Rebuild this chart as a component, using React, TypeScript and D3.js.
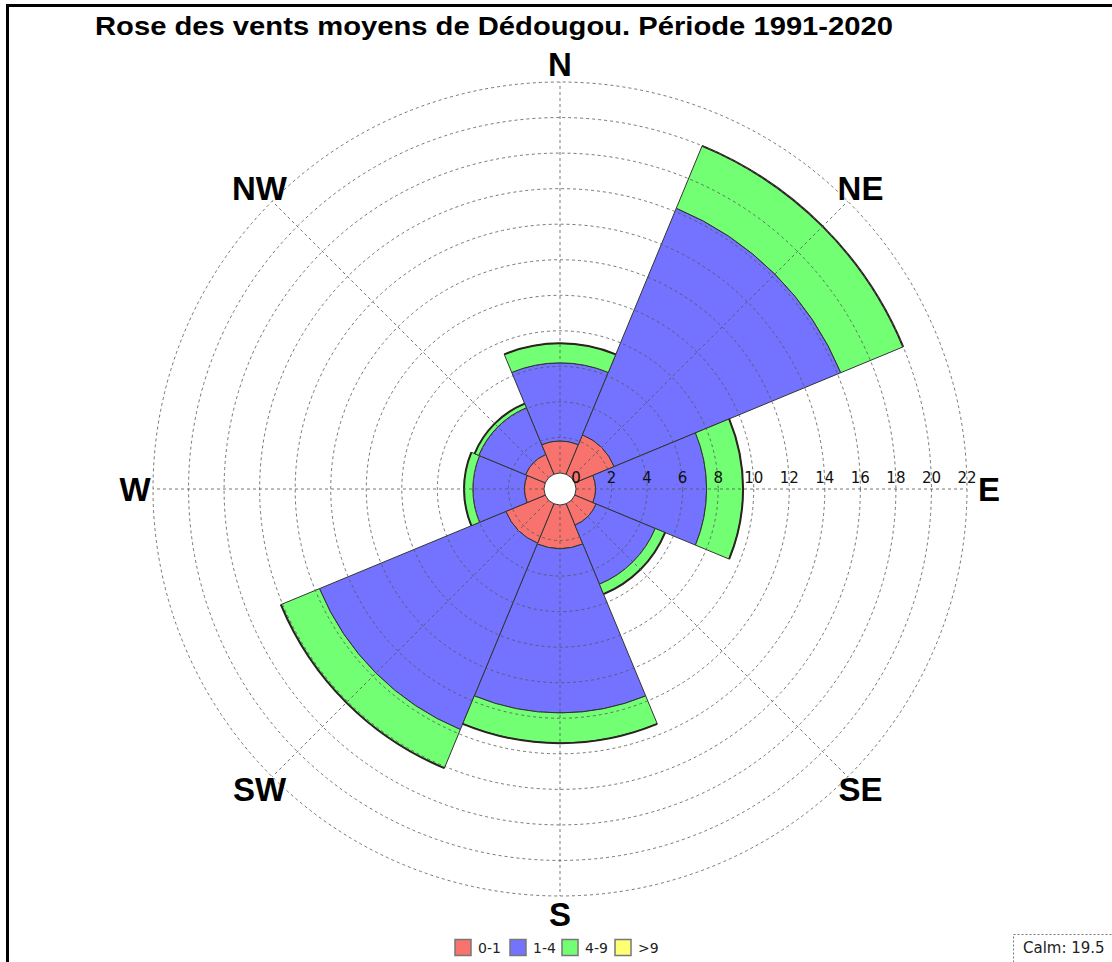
import React, { useEffect, useRef } from "react";
import * as d3 from "d3";

const directions = ["N", "NE", "E", "SE", "S", "SW", "W", "NW"];
const speedBins = ["0-1", "1-4", "4-9", ">9"];
const speed0to1 = [1.8, 2.4, 1.1, 1.3, 2.45, 2.4, 1.1, 1.2];
const speed1to4 = [4.4, 13.8, 6.25, 3.6, 9.25, 11.35, 2.9, 2.85];
const speed4to9 = [1.1, 3.8, 2.05, 0.6, 1.7, 2.35, 0.5, 0.25];
const speedOver9 = [0, 0, 0, 0, 0, 0, 0, 0];
const radialTicks = [0, 2, 4, 6, 8, 10, 12, 14, 16, 18, 20, 22];
const calmValue = 19.5;
const binColors = ["#f8736e", "#7373ff", "#73ff73", "#ffff73"];

const titleText = "Rose des vents moyens de Dédougou. Période 1991-2020";

function WindRose() {
  const ref = useRef<SVGSVGElement | null>(null);

  useEffect(() => {
    const width = 1112;
    const height = 962;
    const cx = 560;
    const cy = 489;
    const font = "'DejaVu Sans', sans-serif";

    const svg = d3.select(ref.current);
    svg.selectAll("*").remove();
    svg.attr("width", width).attr("height", height);

    // frame
    svg.append("rect").attr("x", 7.5).attr("y", 5.5).attr("width", 1300).attr("height", 1200)
      .attr("fill", "white").attr("stroke", "black").attr("stroke-width", 3);

    const rScale = d3.scaleLinear().domain([0, 22]).range([16, 407]);
    const step = (2 * Math.PI) / directions.length;

    const rows = directions.map((d, i) => ({
      dir: d,
      "0-1": speed0to1[i],
      "1-4": speed1to4[i],
      "4-9": speed4to9[i],
      ">9": speedOver9[i],
    }));
    const series = d3.stack<any>().keys(speedBins)(rows);

    const g = svg.append("g").attr("transform", `translate(${cx},${cy})`);

    const arc = d3.arc<any>()
      .innerRadius(d => rScale(d[0]))
      .outerRadius(d => rScale(d[1]))
      .startAngle(d => d.i * step - step / 2)
      .endAngle(d => d.i * step + step / 2);

    series.forEach((s, k) => {
      const segs = s.map((d, i) => ({ 0: d[0], 1: d[1], i })).filter(d => d[1] > d[0]);
      g.append("g").selectAll("path").data(segs).join("path")
        .attr("d", arc as any)
        .attr("fill", binColors[k])
        .attr("stroke", "#333")
        .attr("stroke-width", 1);
    });

    // thicker outline on the outer edge of each petal
    const last = series[series.length - 1];
    const outer = d3.arc<any>()
      .innerRadius(d => rScale(d.v))
      .outerRadius(d => rScale(d.v))
      .startAngle(d => d.i * step - step / 2)
      .endAngle(d => d.i * step + step / 2);
    g.append("g").selectAll("path").data(last.map((d, i) => ({ v: d[1], i })))
      .join("path")
      .attr("d", outer as any)
      .attr("fill", "none")
      .attr("stroke", "#2a2320")
      .attr("stroke-width", 2);

    // grid circles and spokes, drawn over the petals
    const grid = g.append("g").attr("fill", "none").attr("stroke", "#555")
      .attr("stroke-opacity", 0.8).attr("stroke-dasharray", "3,3").attr("stroke-width", 1);
    grid.selectAll("circle").data(radialTicks.filter(t => t > 0)).join("circle")
      .attr("r", d => rScale(d));
    grid.selectAll("line").data(directions.map((d, i) => i)).join("line")
      .attr("x1", i => rScale(0) * Math.sin(i * step))
      .attr("y1", i => -rScale(0) * Math.cos(i * step))
      .attr("x2", i => rScale(22) * Math.sin(i * step))
      .attr("y2", i => -rScale(22) * Math.cos(i * step));

    // radial tick labels along east axis
    g.append("g").selectAll("text").data(radialTicks).join("text")
      .attr("x", d => rScale(d)).attr("y", -6)
      .attr("text-anchor", "middle")
      .style("font-family", font).style("font-size", "15px").attr("fill", "#111")
      .text(d => d);

    // compass labels (E nudged off the last tick label)
    g.append("g").selectAll("text").data(directions).join("text")
      .attr("x", (d, i) => (d === "E" ? 429 : 425) * Math.sin(i * step))
      .attr("y", (d, i) => -425 * Math.cos(i * step))
      .attr("text-anchor", "middle").attr("dominant-baseline", "central")
      .style("font-family", "'Liberation Sans', Arial, sans-serif")
      .style("font-size", "33px").style("font-weight", "bold")
      .text(d => d);

    // title
    svg.append("text").attr("x", 95).attr("y", 35)
      .attr("textLength", 798).attr("lengthAdjust", "spacingAndGlyphs")
      .style("font-family", "'Liberation Sans', Arial, sans-serif")
      .style("font-size", "25px").style("font-weight", "bold")
      .text(titleText);

    // legend
    const legendX = [455, 510, 562, 615];
    const lg = svg.append("g");
    lg.selectAll("rect").data(speedBins).join("rect")
      .attr("x", (d, i) => legendX[i]).attr("y", 939.5)
      .attr("width", 16).attr("height", 16)
      .attr("fill", (d, i) => binColors[i]).attr("stroke", "#777").attr("stroke-width", 1.5);
    lg.selectAll("text").data(speedBins).join("text")
      .attr("x", (d, i) => legendX[i] + 23).attr("y", 953)
      .style("font-family", font).style("font-size", "14px").attr("fill", "#222")
      .text(d => d);

    // calm box
    svg.append("rect").attr("x", 1013.5).attr("y", 934.5).attr("width", 200).attr("height", 100)
      .attr("fill", "white").attr("stroke", "#777").attr("stroke-dasharray", "2,2");
    svg.append("text").attr("x", 1023).attr("y", 953)
      .style("font-family", font).style("font-size", "15px").attr("fill", "#222")
      .text(`Calm: ${calmValue}`);
  }, []);

  return <svg ref={ref} style={{ position: "absolute", left: 0, top: 0, display: "block" }}></svg>;
}

export default function App() {
  return <WindRose />;
}
